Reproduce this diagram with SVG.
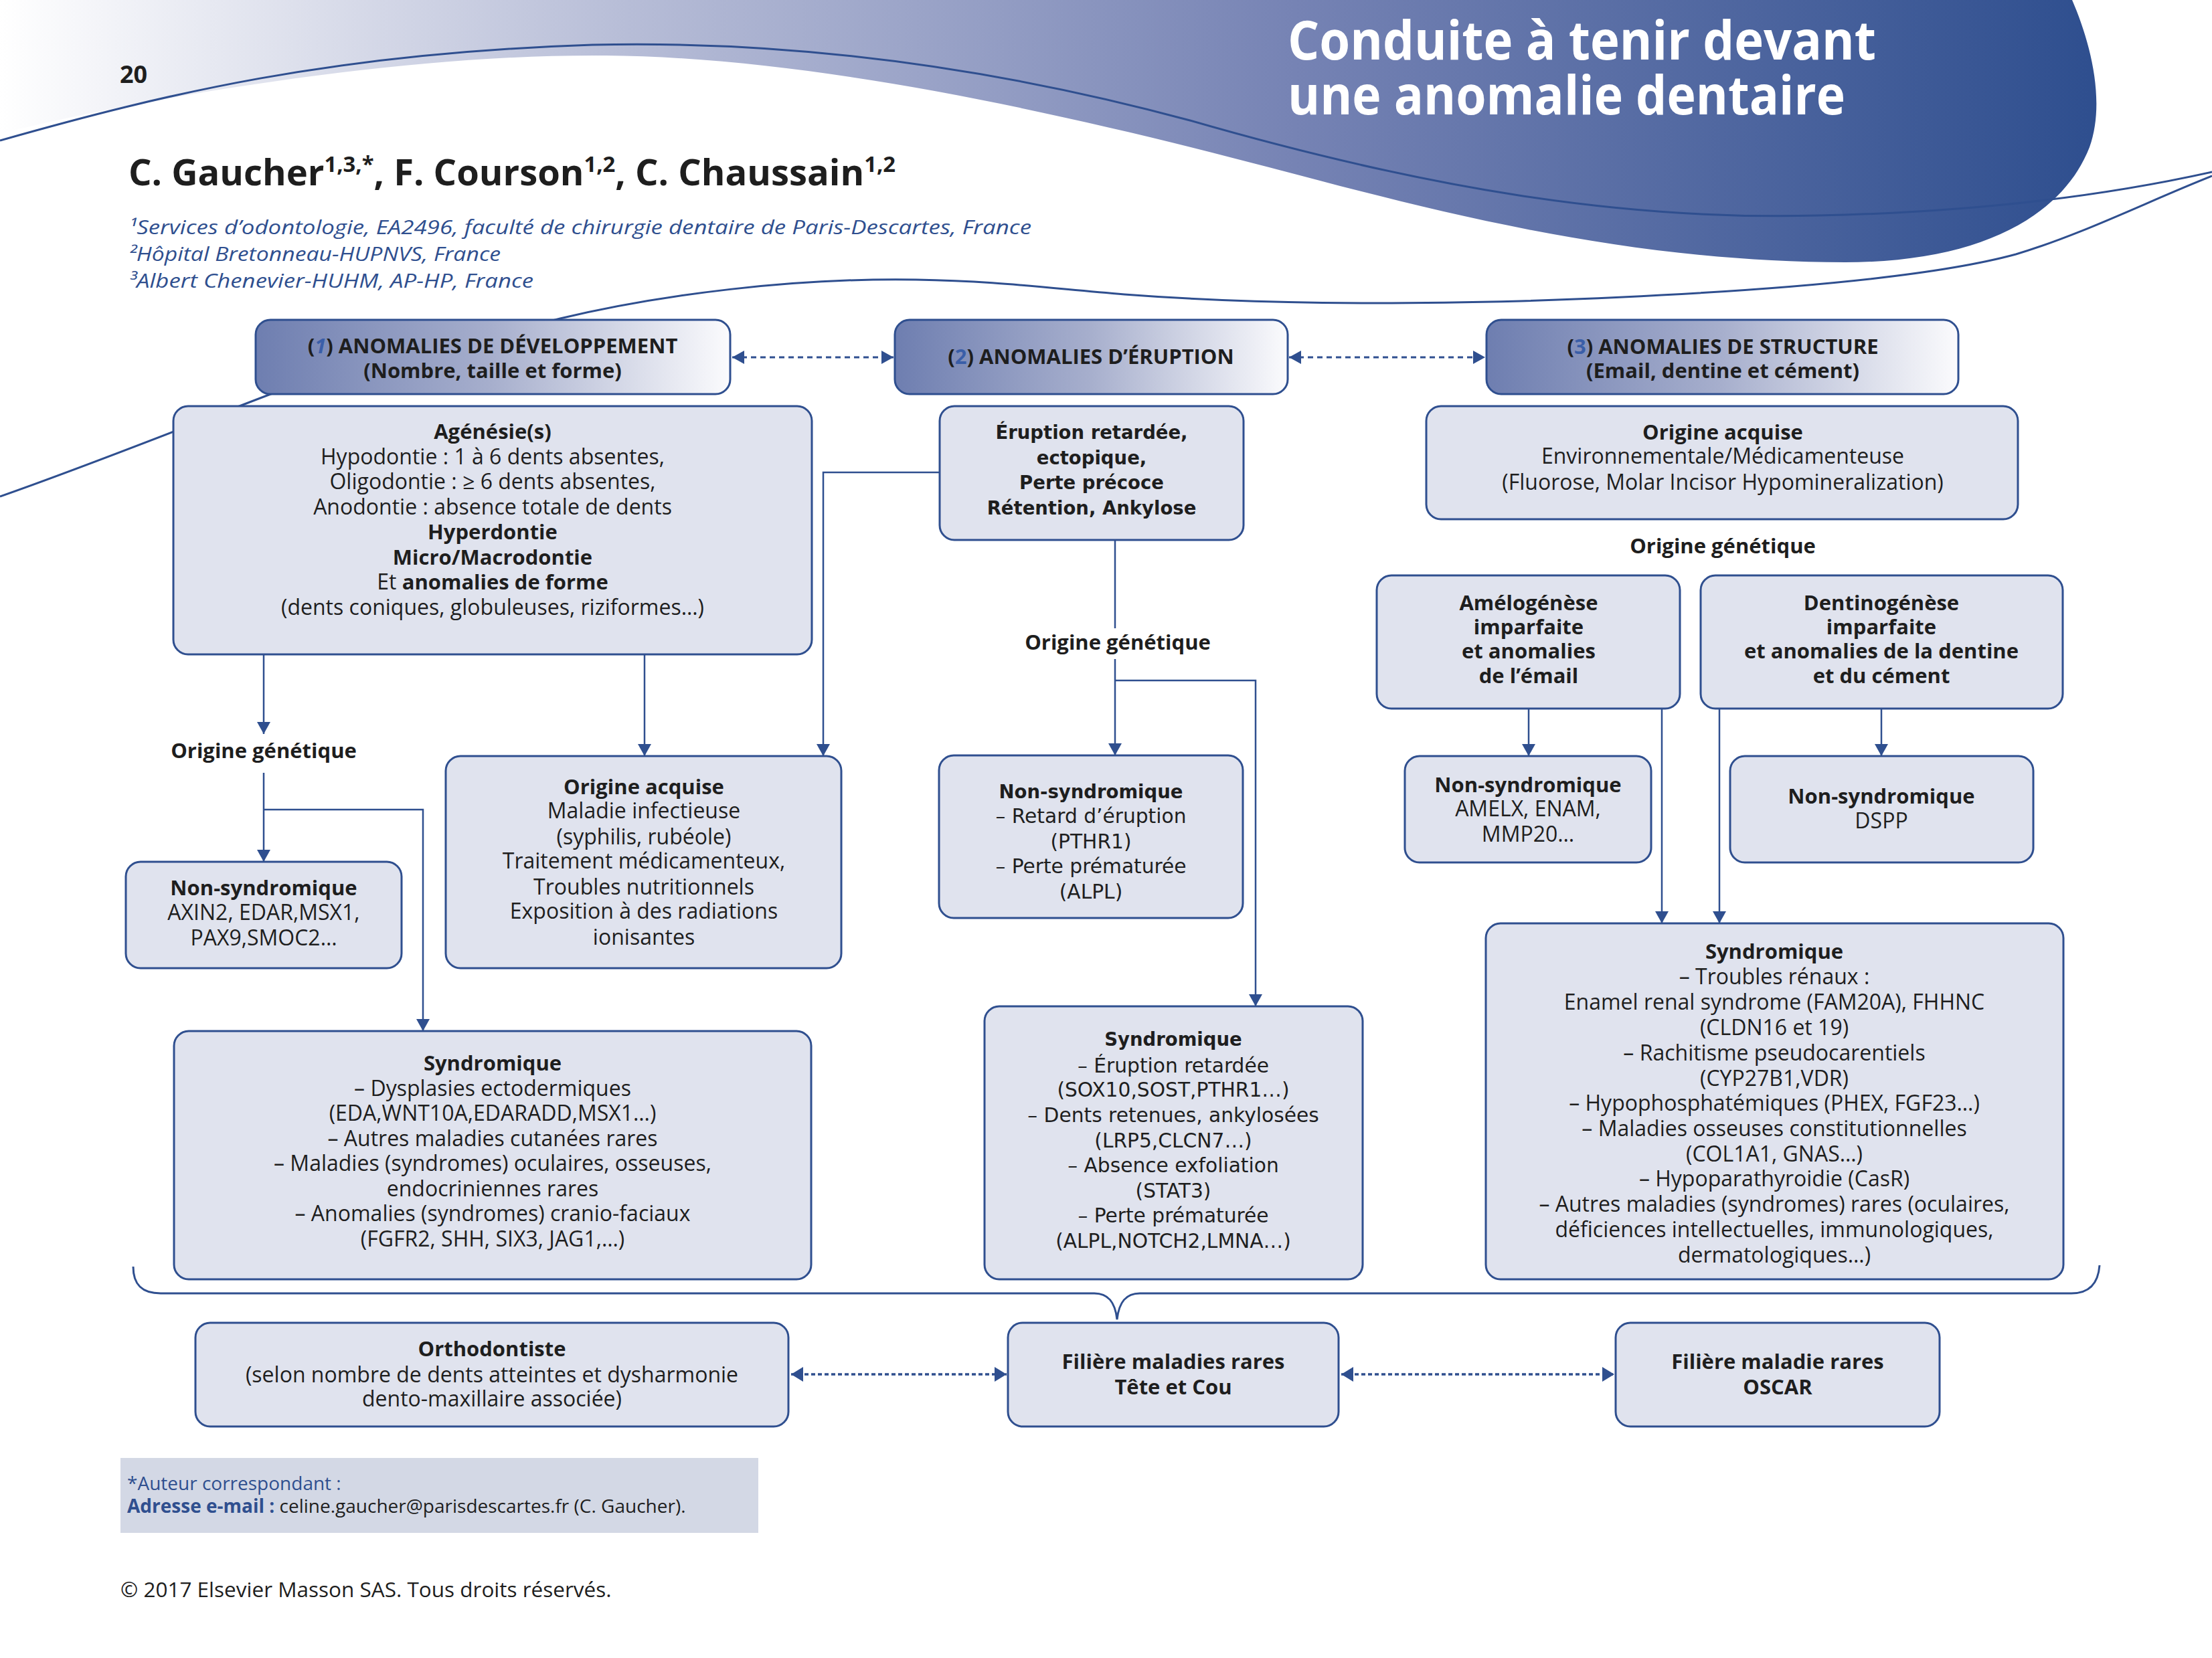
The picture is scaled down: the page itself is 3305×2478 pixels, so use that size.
<svg xmlns="http://www.w3.org/2000/svg" width="3305" height="2478" viewBox="0 0 3305 2478">
<defs>
<linearGradient id="swoosh" gradientUnits="userSpaceOnUse" x1="0" y1="0" x2="3120" y2="0">
<stop offset="0" stop-color="#ffffff"/>
<stop offset="0.3" stop-color="#b7bdd7"/>
<stop offset="0.62" stop-color="#7683b4"/>
<stop offset="1" stop-color="#2f4f8f"/>
</linearGradient>
<linearGradient id="hg" x1="0" y1="0" x2="1" y2="0">
<stop offset="0" stop-color="#6e7eb0"/>
<stop offset="0.5" stop-color="#a7afcd"/>
<stop offset="1" stop-color="#fbfbfd"/>
</linearGradient>
<marker id="ar" viewBox="0 0 18 20" refX="18" refY="10" markerWidth="18" markerHeight="20" markerUnits="userSpaceOnUse" orient="auto-start-reverse">
<path d="M0,0 L18,10 L0,20 Z" fill="#2f4f8f"/>
</marker>
<marker id="ad" viewBox="0 0 18 22" refX="18" refY="11" markerWidth="18" markerHeight="22" markerUnits="userSpaceOnUse" orient="auto-start-reverse">
<path d="M0,0 L18,11 L0,22 Z" fill="#2f4f8f"/>
</marker>
</defs>
<style>
.box{fill:#e0e3ee;stroke:#2f4f8f;stroke-width:3}
.hbox{fill:url(#hg);stroke:#2f4f8f;stroke-width:3}
.t{font-family:"Open Sans","Noto Sans","Liberation Sans",sans-serif;font-size:32px;fill:#1e1e1e;text-anchor:middle}
.b{font-weight:bold;font-size:31px}
.v{font-family:"DejaVu Sans","Liberation Sans",sans-serif;font-size:29.7px}
.vb{font-family:"DejaVu Sans","Liberation Sans",sans-serif;font-size:27.5px;font-weight:bold}
.ln{stroke:#2f4f8f;stroke-width:2.5;fill:none}
.dash{stroke:#2f4f8f;stroke-width:3;fill:none;stroke-dasharray:8 6}
.dot{stroke:#2f4f8f;stroke-width:3.5;fill:none;stroke-dasharray:6 4}
.num{fill:#3a5ea8}
.deco{stroke:#2f4f8f;stroke-width:3;fill:none}
.ft{font-family:"Open Sans","Noto Sans","Liberation Sans",sans-serif}
</style>
<rect width="3305" height="2478" fill="#ffffff"/>

<g id="header">
<path d="M0,0 L3096,0 C3122,60 3147,150 3122,220 C3083,320 2964,392 2757,392 C2421,392 2124,310 1896,250 C1630,180 1235,86 906,83 C593,80 198,150 0,200 Z" fill="url(#swoosh)"/>
<path class="deco" d="M0,210 C247,140 494,80 885,67 C1186,60 1482,100 1778,180 C2124,280 2421,330 2717,322 C2914,318 3112,300 3305,257"/>
<path class="deco" d="M0,742 C148,690 296,630 415,585 L837,476 C988,440 1186,415 1369,418 C1482,420 1541,428 1680,440 C1877,455 2075,455 2272,450 C2569,440 2865,420 3012,380 C3112,350 3211,300 3305,263"/>
<text class="ft" x="179" y="124" font-size="36" font-weight="bold" fill="#1e1e1e">20</text>
<text class="ft" x="1924" y="89" font-size="80" font-weight="bold" fill="#ffffff" textLength="879" lengthAdjust="spacingAndGlyphs">Conduite à tenir devant</text>
<text class="ft" x="1924" y="171" font-size="80" font-weight="bold" fill="#ffffff" textLength="833" lengthAdjust="spacingAndGlyphs">une anomalie dentaire</text>
<text class="ft" x="192" y="277" font-size="53" font-weight="bold" fill="#1e1e1e" textLength="1146" lengthAdjust="spacingAndGlyphs">C. Gaucher<tspan font-size="32" dy="-20">1,3,*</tspan><tspan dy="20">, F. Courson</tspan><tspan font-size="32" dy="-20">1,2</tspan><tspan dy="20">, C. Chaussain</tspan><tspan font-size="32" dy="-20">1,2</tspan></text>
<g class="ft" font-size="29" font-style="italic" fill="#2f4f8f">
<text x="192" y="350" textLength="1349" lengthAdjust="spacingAndGlyphs">¹Services d’odontologie, EA2496, faculté de chirurgie dentaire de Paris-Descartes, France</text>
<text x="192" y="390" textLength="556" lengthAdjust="spacingAndGlyphs">²Hôpital Bretonneau-HUPNVS, France</text>
<text x="192" y="430" textLength="605" lengthAdjust="spacingAndGlyphs">³Albert Chenevier-HUHM, AP-HP, France</text>
</g>
</g>

<g id="connectors">
<path class="dash" d="M1094,534 L1335,534" marker-start="url(#ar)" marker-end="url(#ar)"/>
<path class="dash" d="M1926,534 L2219,534" marker-start="url(#ar)" marker-end="url(#ar)"/>
<path class="ln" d="M394,978 L394,1097" marker-end="url(#ar)"/>
<path class="ln" d="M394,1155 L394,1288" marker-end="url(#ar)"/>
<path class="ln" d="M394,1210 L632,1210 L632,1541" marker-end="url(#ar)"/>
<path class="ln" d="M963,978 L963,1130" marker-end="url(#ar)"/>
<path class="ln" d="M1404,706 L1230,706 L1230,1130" marker-end="url(#ar)"/>
<path class="ln" d="M1666,807 L1666,939"/>
<path class="ln" d="M1666,985 L1666,1129" marker-end="url(#ar)"/>
<path class="ln" d="M1666,1017 L1876,1017 L1876,1504" marker-end="url(#ar)"/>
<path class="ln" d="M2284,1059 L2284,1130" marker-end="url(#ar)"/>
<path class="ln" d="M2811,1059 L2811,1130" marker-end="url(#ar)"/>
<path class="ln" d="M2483,1059 L2483,1380" marker-end="url(#ar)"/>
<path class="ln" d="M2569,1059 L2569,1380" marker-end="url(#ar)"/>
<path class="deco" d="M199,1893 C199,1920 212,1933 240,1933 L1635,1933 C1655,1933 1666,1945 1669,1972 C1672,1945 1683,1933 1703,1933 L3095,1933 C3122,1933 3135,1918 3137,1891"/>
<path class="dot" d="M1182,2054 L1504,2054" marker-start="url(#ad)" marker-end="url(#ad)"/>
<path class="dot" d="M2004,2054 L2412,2054" marker-start="url(#ad)" marker-end="url(#ad)"/>
</g>

<g id="h1">
<rect class="hbox" x="382" y="478" width="709" height="111" rx="22"/>
<text class="t b" x="736" y="528">(<tspan class="num" font-style="italic">1</tspan>) ANOMALIES DE DÉVELOPPEMENT</text>
<text class="t b" x="736" y="565">(Nombre, taille et forme)</text>
</g>
<g id="h2">
<rect class="hbox" x="1337" y="478" width="587" height="111" rx="22"/>
<text class="t b" x="1630" y="544">(<tspan class="num">2</tspan>) ANOMALIES D’ÉRUPTION</text>
</g>
<g id="h3">
<rect class="hbox" x="2221" y="478" width="705" height="111" rx="22"/>
<text class="t b" x="2574" y="529">(<tspan class="num">3</tspan>) ANOMALIES DE STRUCTURE</text>
<text class="t b" x="2574" y="565">(Email, dentine et cément)</text>
</g>

<g id="agenesie">
<rect class="box" x="259" y="607" width="954" height="371" rx="22"/>
<text class="t b" x="736" y="656">Agénésie(s)</text>
<text class="t" x="736" y="694">Hypodontie : 1 à 6 dents absentes,</text>
<text class="t" x="736" y="731">Oligodontie : ≥ 6 dents absentes,</text>
<text class="t" x="736" y="769">Anodontie : absence totale de dents</text>
<text class="t b" x="736" y="806">Hyperdontie</text>
<text class="t b" x="736" y="844">Micro/Macrodontie</text>
<text class="t" x="736" y="881">Et <tspan font-weight="bold" font-size="31">anomalies de forme</tspan></text>
<text class="t" x="736" y="919">(dents coniques, globuleuses, riziformes…)</text>
</g>

<g id="label-gen1">
<text class="t b" x="394" y="1133">Origine génétique</text>
</g>

<g id="ns1">
<rect class="box" x="188" y="1288" width="412" height="159" rx="22"/>
<text class="t b" x="394" y="1338">Non-syndromique</text>
<text class="t" x="394" y="1375">AXIN2, EDAR,MSX1,</text>
<text class="t" x="394" y="1413">PAX9,SMOC2…</text>
</g>

<g id="acq1">
<rect class="box" x="666" y="1130" width="591" height="317" rx="22"/>
<text class="t b" x="962" y="1187">Origine acquise</text>
<text class="t" x="962" y="1223">Maladie infectieuse</text>
<text class="t" x="962" y="1262">(syphilis, rubéole)</text>
<text class="t" x="962" y="1298">Traitement médicamenteux,</text>
<text class="t" x="962" y="1337">Troubles nutritionnels</text>
<text class="t" x="962" y="1373">Exposition à des radiations</text>
<text class="t" x="962" y="1412">ionisantes</text>
</g>

<g id="synd1">
<rect class="box" x="260" y="1541" width="952" height="371" rx="22"/>
<text class="t b" x="736" y="1600">Syndromique</text>
<text class="t" x="736" y="1638">– Dysplasies ectodermiques</text>
<text class="t" x="736" y="1675">(EDA,WNT10A,EDARADD,MSX1…)</text>
<text class="t" x="736" y="1713">– Autres maladies cutanées rares</text>
<text class="t" x="736" y="1750">– Maladies (syndromes) oculaires, osseuses,</text>
<text class="t" x="736" y="1788">endocriniennes rares</text>
<text class="t" x="736" y="1825">– Anomalies (syndromes) cranio-faciaux</text>
<text class="t" x="736" y="1863">(FGFR2, SHH, SIX3, JAG1,…)</text>
</g>

<g id="eruption">
<rect class="box" x="1404" y="607" width="454" height="200" rx="22"/>
<text class="t vb" x="1631" y="656">Éruption retardée,</text>
<text class="t vb" x="1631" y="694">ectopique,</text>
<text class="t vb" x="1631" y="731">Perte précoce</text>
<text class="t vb" x="1631" y="769">Rétention, Ankylose</text>
</g>

<g id="label-gen2">
<text class="t b" x="1670" y="971">Origine génétique</text>
</g>

<g id="ns2">
<rect class="box" x="1403" y="1129" width="454" height="243" rx="22"/>
<text class="t vb" x="1630" y="1193">Non-syndromique</text>
<text class="t v" x="1630" y="1230">– Retard d’éruption</text>
<text class="t v" x="1630" y="1268">(PTHR1)</text>
<text class="t v" x="1630" y="1305">– Perte prématurée</text>
<text class="t v" x="1630" y="1343">(ALPL)</text>
</g>

<g id="synd2">
<rect class="box" x="1471" y="1504" width="565" height="408" rx="22"/>
<text class="t vb" x="1753" y="1563">Syndromique</text>
<text class="t v" x="1753" y="1603">– Éruption retardée</text>
<text class="t v" x="1753" y="1639">(SOX10,SOST,PTHR1…)</text>
<text class="t v" x="1753" y="1677">– Dents retenues, ankylosées</text>
<text class="t v" x="1753" y="1715">(LRP5,CLCN7…)</text>
<text class="t v" x="1753" y="1752">– Absence exfoliation</text>
<text class="t v" x="1753" y="1790">(STAT3)</text>
<text class="t v" x="1753" y="1827">– Perte prématurée</text>
<text class="t v" x="1753" y="1865">(ALPL,NOTCH2,LMNA…)</text>
</g>

<g id="acq3">
<rect class="box" x="2131" y="607" width="884" height="169" rx="22"/>
<text class="t b" x="2574" y="657">Origine acquise</text>
<text class="t" x="2574" y="693">Environnementale/Médicamenteuse</text>
<text class="t" x="2574" y="732">(Fluorose, Molar Incisor Hypomineralization)</text>
</g>

<g id="label-gen3">
<text class="t b" x="2574" y="827">Origine génétique</text>
</g>

<g id="amelo">
<rect class="box" x="2057" y="860" width="453" height="199" rx="22"/>
<text class="t b" x="2284" y="912">Amélogénèse</text>
<text class="t b" x="2284" y="948">imparfaite</text>
<text class="t b" x="2284" y="984">et anomalies</text>
<text class="t b" x="2284" y="1021">de l’émail</text>
</g>

<g id="dentino">
<rect class="box" x="2541" y="860" width="541" height="199" rx="22"/>
<text class="t b" x="2811" y="912">Dentinogénèse</text>
<text class="t b" x="2811" y="948">imparfaite</text>
<text class="t b" x="2811" y="984">et anomalies de la dentine</text>
<text class="t b" x="2811" y="1021">et du cément</text>
</g>

<g id="ns3a">
<rect class="box" x="2099" y="1130" width="368" height="159" rx="22"/>
<text class="t b" x="2283" y="1184">Non-syndromique</text>
<text class="t" x="2283" y="1220">AMELX, ENAM,</text>
<text class="t" x="2283" y="1258">MMP20…</text>
</g>

<g id="ns3b">
<rect class="box" x="2585" y="1130" width="453" height="159" rx="22"/>
<text class="t b" x="2811" y="1201">Non-syndromique</text>
<text class="t" x="2811" y="1238">DSPP</text>
</g>

<g id="synd3">
<rect class="box" x="2220" y="1380" width="863" height="532" rx="22"/>
<text class="t b" x="2651" y="1433">Syndromique</text>
<text class="t" x="2651" y="1471">– Troubles rénaux :</text>
<text class="t" x="2651" y="1509">Enamel renal syndrome (FAM20A), FHHNC</text>
<text class="t" x="2651" y="1547">(CLDN16 et 19)</text>
<text class="t" x="2651" y="1585">– Rachitisme pseudocarentiels</text>
<text class="t" x="2651" y="1623">(CYP27B1,VDR)</text>
<text class="t" x="2651" y="1660">– Hypophosphatémiques (PHEX, FGF23…)</text>
<text class="t" x="2651" y="1698">– Maladies osseuses constitutionnelles</text>
<text class="t" x="2651" y="1736">(COL1A1, GNAS…)</text>
<text class="t" x="2651" y="1773">– Hypoparathyroidie (CasR)</text>
<text class="t" x="2651" y="1811">– Autres maladies (syndromes) rares (oculaires,</text>
<text class="t" x="2651" y="1849">déficiences intellectuelles, immunologiques,</text>
<text class="t" x="2651" y="1887">dermatologiques…)</text>
</g>

<g id="ortho">
<rect class="box" x="292" y="1977" width="886" height="155" rx="22"/>
<text class="t b" x="735" y="2027">Orthodontiste</text>
<text class="t" x="735" y="2066">(selon nombre de dents atteintes et dysharmonie</text>
<text class="t" x="735" y="2102">dento-maxillaire associée)</text>
</g>

<g id="filiere-tc">
<rect class="box" x="1506" y="1977" width="494" height="155" rx="22"/>
<text class="t b" x="1753" y="2046">Filière maladies rares</text>
<text class="t b" x="1753" y="2084">Tête et Cou</text>
</g>

<g id="filiere-oscar">
<rect class="box" x="2414" y="1977" width="484" height="155" rx="22"/>
<text class="t b" x="2656" y="2046">Filière maladie rares</text>
<text class="t b" x="2656" y="2084">OSCAR</text>
</g>

<g id="footer">
<rect x="180" y="2179" width="953" height="112" fill="#d3d8e5"/>
<text class="ft" x="190" y="2227" font-size="28" fill="#2f4f8f">*Auteur correspondant :</text>
<text class="ft" x="190" y="2261" font-size="28" fill="#1e1e1e"><tspan font-weight="bold" fill="#2f4f8f">Adresse e-mail :</tspan> celine.gaucher@parisdescartes.fr (C. Gaucher).</text>
<text class="ft" x="180" y="2387" font-size="31.5" fill="#1e1e1e">© 2017 Elsevier Masson SAS. Tous droits réservés.</text>
</g>
</svg>
